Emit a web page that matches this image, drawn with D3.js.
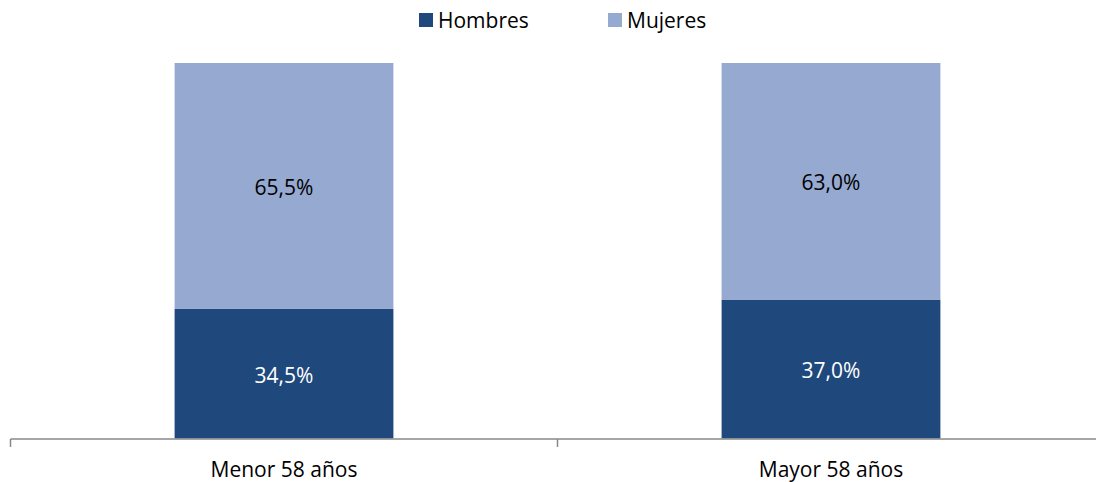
<!DOCTYPE html>
<html><head><meta charset="utf-8">
<script src="https://cdn.jsdelivr.net/npm/d3@7"></script>
<style>body{margin:0;background:#fff;} svg{display:block;font-family:"Open Sans",Lato,sans-serif;}</style>
</head><body>
<svg id="c" width="1096" height="482"></svg>
<script>
const categories = ["Menor 58 años", "Mayor 58 años"];
const hombres = [34.5, 37.0];
const mujeres = [65.5, 63.0];
const seriesNames = ["Hombres", "Mujeres"];
const colors = ["#1F497D", "#95A9D1"];
const fontSize = 21;

const svg = d3.select("#c");
const x = d3.scaleBand().domain(categories).range([10.5, 1104.5]).paddingInner(0.6).paddingOuter(0.3);
const y = d3.scaleLinear().domain([0, 100]).range([438.5, 63]);

const rows = categories.map((c, i) => ({cat: c, Hombres: hombres[i], Mujeres: mujeres[i]}));
const stack = d3.stack().keys(seriesNames)(rows);

stack.forEach((s, si) => {
  svg.append("g").selectAll("rect").data(s).join("rect")
    .attr("x", d => x(d.data.cat))
    .attr("width", x.bandwidth())
    .attr("y", d => y(d[1]))
    .attr("height", d => y(d[0]) - y(d[1]))
    .attr("fill", colors[si]);
  svg.append("g").selectAll("text").data(s).join("text")
    .attr("x", d => x(d.data.cat) + x.bandwidth() / 2)
    .attr("y", d => (y(d[0]) + y(d[1])) / 2 + 1.5)
    .attr("dy", "0.35em")
    .attr("text-anchor", "middle")
    .attr("font-size", fontSize)
    .attr("fill", si === 0 ? "#fff" : "#000")
    .text(d => (d[1] - d[0]).toFixed(1).replace(".", ",") + "%");
});

// axis
const axisG = svg.append("g");
axisG.append("line").attr("x1", 10.5).attr("x2", 1104).attr("y1", 439).attr("y2", 439)
  .attr("stroke", "#888").attr("stroke-width", 1.5);
const tickXs = [0, 1, 2].map(i => 10.5 + i * (1094 / 2));
axisG.selectAll("line.t").data(tickXs).join("line").attr("class", "t")
  .attr("x1", d => d).attr("x2", d => d).attr("y1", 439).attr("y2", 447)
  .attr("stroke", "#888").attr("stroke-width", 1.5);
axisG.selectAll("text").data(categories).join("text")
  .attr("x", d => x(d) + x.bandwidth() / 2)
  .attr("y", 469.5)
  .attr("dy", "0.35em")
  .attr("text-anchor", "middle")
  .attr("font-size", fontSize)
  .attr("fill", "#000")
  .text(d => d);

// legend
const legX = [419, 608];
const leg = svg.append("g");
seriesNames.forEach((n, i) => {
  leg.append("rect").attr("x", legX[i]).attr("y", 13).attr("width", 14).attr("height", 14).attr("fill", colors[i]);
  leg.append("text").attr("x", legX[i] + 19).attr("y", 21).attr("dy", "0.35em")
    .attr("font-size", fontSize).attr("fill", "#000").text(n);
});
</script>
</body></html>
